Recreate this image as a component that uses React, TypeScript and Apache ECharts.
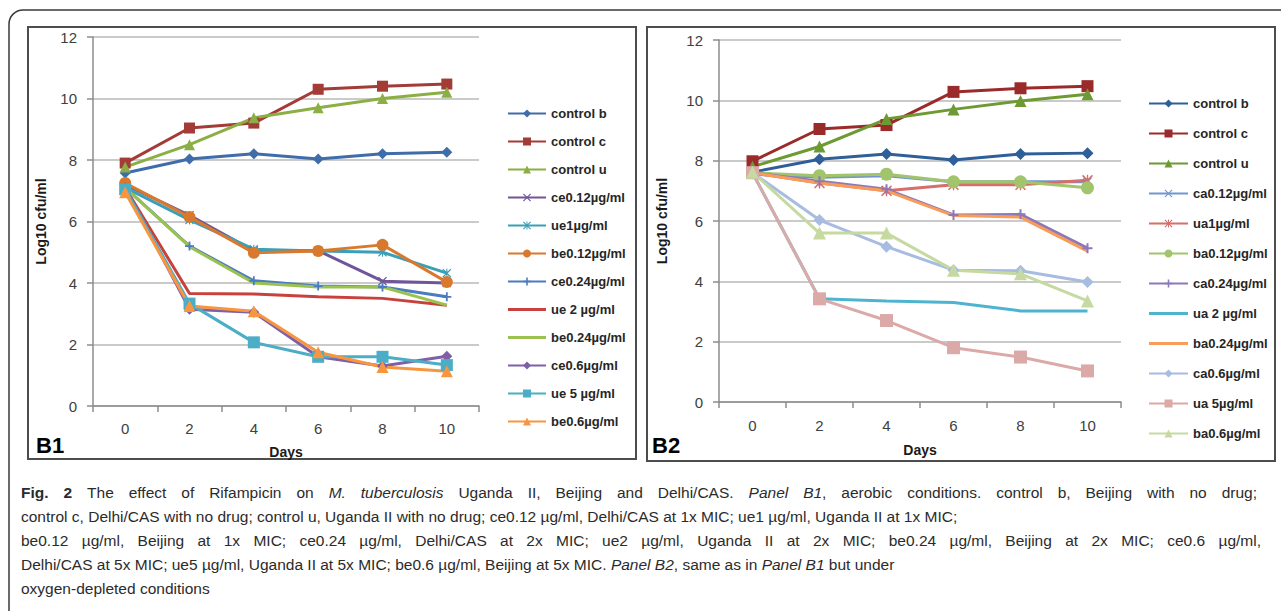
import React, { useEffect, useRef } from "react";
import * as echarts from "echarts";

// ---------- data ----------
const days = ["0", "2", "4", "6", "8", "10"];

// Panel B1 (aerobic)
const b1Names = [
  "control b", "control c", "control u", "ce0.12µg/ml", "ue1µg/ml", "be0.12µg/ml",
  "ce0.24µg/ml", "ue 2 µg/ml", "be0.24µg/ml", "ce0.6µg/ml", "ue 5 µg/ml", "be0.6µg/ml",
];
const b1ControlB = [7.58, 8.03, 8.2, 8.03, 8.2, 8.25];
const b1ControlC = [7.9, 9.04, 9.2, 10.3, 10.4, 10.47];
const b1ControlU = [7.77, 8.5, 9.37, 9.7, 10.0, 10.2];
const b1Ce012 = [7.2, 6.2, 5.05, 5.05, 4.06, 4.0];
const b1Ue1 = [7.1, 6.05, 5.1, 5.04, 5.0, 4.32];
const b1Be012 = [7.25, 6.15, 4.98, 5.04, 5.24, 4.03];
const b1Ce024 = [7.1, 5.2, 4.07, 3.9, 3.87, 3.55];
const b1Ue2 = [7.1, 3.66, 3.64, 3.55, 3.5, 3.28];
const b1Be024 = [7.1, 5.18, 4.0, 3.87, 3.87, 3.28];
const b1Ce06 = [7.1, 3.15, 3.05, 1.6, 1.3, 1.62];
const b1Ue5 = [7.05, 3.33, 2.07, 1.6, 1.6, 1.33];
const b1Be06 = [6.95, 3.25, 3.08, 1.75, 1.27, 1.13];

// Panel B2 (oxygen-depleted)
const b2Names = [
  "control b", "control c", "control u", "ca0.12µg/ml", "ua1µg/ml", "ba0.12µg/ml",
  "ca0.24µg/ml", "ua 2 µg/ml", "ba0.24µg/ml", "ca0.6µg/ml", "ua 5µg/ml", "ba0.6µg/ml",
];
const b2ControlB = [7.62, 8.05, 8.22, 8.02, 8.22, 8.25];
const b2ControlC = [7.98, 9.05, 9.18, 10.28, 10.4, 10.47];
const b2ControlU = [7.8, 8.47, 9.38, 9.7, 9.98, 10.2];
const b2Ca012 = [7.55, 7.45, 7.5, 7.3, 7.3, 7.3];
const b2Ua1 = [7.6, 7.26, 7.0, 7.2, 7.2, 7.35];
const b2Ba012 = [7.6, 7.5, 7.55, 7.3, 7.3, 7.1];
const b2Ca024 = [7.6, 7.32, 7.05, 6.2, 6.22, 5.1];
const b2Ua2 = [7.6, 3.42, 3.35, 3.3, 3.02, 3.02];
const b2Ba024 = [7.6, 7.26, 7.0, 6.18, 6.13, 5.0];
const b2Ca06 = [7.6, 6.03, 5.15, 4.37, 4.35, 3.98];
const b2Ua5 = [7.6, 3.42, 2.7, 1.8, 1.49, 1.03];
const b2Ba06 = [7.62, 5.6, 5.6, 4.37, 4.25, 3.35];

const captionLines = [
  "{b|Fig. 2} The effect of Rifampicin on {i|M. tuberculosis} Uganda II, Beijing and Delhi/CAS. {i|Panel B1}, aerobic conditions. control b, Beijing with no drug;",
  "control c, Delhi/CAS with no drug; control u, Uganda II with no drug; ce0.12 µg/ml, Delhi/CAS at 1x MIC; ue1 µg/ml, Uganda II at 1x MIC;",
  "be0.12 µg/ml, Beijing at 1x MIC; ce0.24 µg/ml, Delhi/CAS at 2x MIC; ue2 µg/ml, Uganda II at 2x MIC; be0.24 µg/ml, Beijing at 2x MIC; ce0.6 µg/ml,",
  "Delhi/CAS at 5x MIC; ue5 µg/ml, Uganda II at 5x MIC; be0.6 µg/ml, Beijing at 5x MIC. {i|Panel B2}, same as in {i|Panel B1} but under",
  "oxygen-depleted conditions",
];
// justified lines get stretched to this right edge (null = natural width)
const captionJustifyTo: (number | null)[] = [1257, null, 1261, null, null];

// ---------- styles ----------
const PLUS = "path://M4,0H6V4H10V6H6V10H4V6H0V4H4Z";
const CROSS = "path://M1,0L5,4L9,0L10,1L6,5L10,9L9,10L5,6L1,10L0,9L4,5L0,1Z";
const STAR = "path://M1,0L5,4L9,0L10,1L6,5L10,9L9,10L5,6L1,10L0,9L4,5L0,1Z M4.4,0H5.6V10H4.4Z";
const BAR = "path://M0,0H38V3H0Z";

type Sty = { color: string; symbol: string; size: number };
const b1Styles: Sty[] = [
  { color: "#3E6DAA", symbol: "diamond", size: 11 },
  { color: "#A33B37", symbol: "rect", size: 11 },
  { color: "#8BAF45", symbol: "triangle", size: 11 },
  { color: "#6F559A", symbol: CROSS, size: 9 },
  { color: "#3C9FB8", symbol: STAR, size: 9 },
  { color: "#D9792E", symbol: "circle", size: 12 },
  { color: "#4A7CC0", symbol: PLUS, size: 9 },
  { color: "#C8413D", symbol: "none", size: 0 },
  { color: "#9BC24F", symbol: "none", size: 0 },
  { color: "#7F5FA8", symbol: "diamond", size: 11 },
  { color: "#4BADC6", symbol: "rect", size: 12 },
  { color: "#F7963F", symbol: "triangle", size: 12 },
];
const b2Styles: Sty[] = [
  { color: "#2F5F99", symbol: "diamond", size: 12 },
  { color: "#9B2B2B", symbol: "rect", size: 12 },
  { color: "#6D9A32", symbol: "triangle", size: 12 },
  { color: "#7096D2", symbol: CROSS, size: 9 },
  { color: "#D66E6B", symbol: STAR, size: 11 },
  { color: "#A2C46C", symbol: "circle", size: 13 },
  { color: "#8D79B8", symbol: PLUS, size: 10 },
  { color: "#4EB3CF", symbol: "none", size: 0 },
  { color: "#FA9C59", symbol: "none", size: 0 },
  { color: "#A7BCE0", symbol: "diamond", size: 12 },
  { color: "#DBAAA8", symbol: "rect", size: 13 },
  { color: "#C5D9A0", symbol: "triangle", size: 13 },
];

const AX_FONT = "Liberation Sans";
const CAP_FONT = "Liberation Sans";
const CAP_SIZE = 15.5;
const CAP_COLOR = "#2b2b2b";

function panelOption(
  names: string[],
  values: number[][],
  styles: Sty[],
  g: { left: number; top: number; width: number; height: number },
  lg: { left: number; top: number; gap: number; w: number },
  gaps: { yName: number; xName: number; xLabel: number },
  graphic: any[]
) {
  return {
    animation: false,
    graphic,
    grid: { left: g.left, top: g.top, width: g.width, height: g.height, containLabel: false },
    legend: {
      orient: "vertical",
      left: lg.left,
      top: lg.top,
      itemWidth: lg.w,
      itemHeight: 10,
      itemGap: lg.gap,
      padding: 0,
      selectedMode: false,
      textStyle: { fontFamily: AX_FONT, fontWeight: "bold", fontSize: 13, color: "#262626" },
      data: names.map((n, i) => (styles[i].symbol === "none" ? { name: n, icon: BAR } : { name: n })),
    },
    xAxis: {
      type: "category",
      data: days,
      boundaryGap: true,
      name: "Days",
      nameLocation: "middle",
      nameGap: gaps.xName,
      nameTextStyle: { fontFamily: AX_FONT, fontWeight: "bold", fontSize: 14, color: "#1a1a1a" },
      axisLine: { lineStyle: { color: "#8C8C8C", width: 1.5 } },
      axisTick: { show: true, length: 6, alignWithLabel: false, lineStyle: { color: "#8C8C8C", width: 1.5 } },
      axisLabel: { fontFamily: AX_FONT, fontSize: 15, color: "#404040", margin: gaps.xLabel },
    },
    yAxis: {
      type: "value",
      min: 0,
      max: 12,
      interval: 2,
      name: "Log10 cfu/ml",
      nameLocation: "middle",
      nameRotate: 90,
      nameGap: gaps.yName,
      nameTextStyle: { fontFamily: AX_FONT, fontWeight: "bold", fontSize: 14, color: "#1a1a1a" },
      axisLine: { show: true, lineStyle: { color: "#8C8C8C", width: 1.5 } },
      axisTick: { show: true, length: 6, lineStyle: { color: "#8C8C8C", width: 1.5 } },
      axisLabel: { fontFamily: AX_FONT, fontSize: 15, color: "#404040", margin: 16 },
      splitLine: { lineStyle: { color: "#B8B8B8", width: 1.5 } },
    },
    series: names.map((n, i) => ({
      name: n,
      type: "line",
      data: values[i],
      symbol: styles[i].symbol,
      symbolSize: styles[i].size,
      showSymbol: styles[i].symbol !== "none",
      lineStyle: { color: styles[i].color, width: 3 },
      itemStyle: { color: styles[i].color },
      emphasis: { disabled: true },
    })),
  };
}

// Split a rich caption line into styled words
function captionWords(line: string) {
  const words: { text: string; kind: string }[] = [];
  const re = /\{(b|i)\|([^}]*)\}|([^{]+)/g;
  let m: RegExpExecArray | null;
  while ((m = re.exec(line))) {
    const kind = m[1] || "n";
    const txt = m[1] ? m[2] : m[3];
    const parts = txt.split(" ");
    parts.forEach((p, idx) => {
      if (p === "") return;
      // attach punctuation-only continuation to previous word when no space separated it
      if (idx === 0 && words.length && !/^\s/.test(txt) && !/\s$/.test(words[words.length - 1].text) && m!.index > 0 && line[m!.index - 1] !== " ") {
        // glued to previous token (e.g. "}," ) -> separate piece with zero gap
        words.push({ text: p, kind: kind + "-glue" });
      } else {
        words.push({ text: p, kind });
      }
    });
  }
  return words;
}

function captionGraphics(): any[] {
  const ctx = document.createElement("canvas").getContext("2d")!;
  const fontOf = (k: string) =>
    `${k.startsWith("i") ? "italic " : ""}${k.startsWith("b") ? "bold " : ""}${CAP_SIZE}px "${CAP_FONT}"`;
  const out: any[] = [];
  captionLines.forEach((line, li) => {
    const y = 492 + li * 24;
    const target = captionJustifyTo[li];
    if (target == null) {
      out.push({
        type: "text",
        silent: true,
        style: {
          text: line,
          x: 21,
          y,
          verticalAlign: "middle",
          fontFamily: CAP_FONT,
          fontSize: CAP_SIZE,
          fill: CAP_COLOR,
          rich: {
            b: { fontFamily: CAP_FONT, fontSize: CAP_SIZE, fontWeight: "bold", fill: CAP_COLOR },
            i: { fontFamily: CAP_FONT, fontSize: CAP_SIZE, fontStyle: "italic", fill: CAP_COLOR },
          },
        },
      });
      return;
    }
    const words = captionWords(line);
    const widths = words.map((w) => {
      ctx.font = fontOf(w.kind);
      return ctx.measureText(w.text).width;
    });
    const gapsCount = words.filter((w, i) => i > 0 && !w.kind.endsWith("glue")).length;
    const total = widths.reduce((a, b) => a + b, 0);
    const gap = (target - 21 - total) / Math.max(1, gapsCount);
    let x = 21;
    words.forEach((w, i) => {
      if (i > 0 && !w.kind.endsWith("glue")) x += gap;
      const k = w.kind.replace("-glue", "");
      out.push({
        type: "text",
        silent: true,
        style: {
          text: w.text,
          x,
          y,
          verticalAlign: "middle",
          fontFamily: CAP_FONT,
          fontSize: CAP_SIZE,
          fontWeight: k === "b" ? "bold" : "normal",
          fontStyle: k === "i" ? "italic" : "normal",
          fill: CAP_COLOR,
        },
      });
      x += widths[i];
    });
  });
  return out;
}

export default function App() {
  const refA = useRef<HTMLDivElement>(null);
  const refB = useRef<HTMLDivElement>(null);

  useEffect(() => {
    if (!refA.current || !refB.current) return;
    const chartA = echarts.init(refA.current, undefined, { renderer: "svg" });
    const chartB = echarts.init(refB.current, undefined, { renderer: "svg" });

    const graphicA: any[] = [
      {
        type: "rect",
        shape: { x: 9, y: 10, width: 1320, height: 720, r: 14 },
        style: { fill: "none", stroke: "#3a3a3a", lineWidth: 1.5 },
        silent: true,
      },
      {
        type: "rect",
        shape: { x: 28, y: 27, width: 608, height: 432 },
        style: { fill: "none", stroke: "#4d4d4d", lineWidth: 2 },
        silent: true,
      },
      {
        type: "rect",
        shape: { x: 647, y: 27, width: 628, height: 434 },
        style: { fill: "none", stroke: "#4d4d4d", lineWidth: 2 },
        silent: true,
      },
      {
        type: "text",
        style: { text: "B1", x: 36, y: 445, verticalAlign: "middle", fontFamily: AX_FONT, fontWeight: "bold", fontSize: 22, fill: "#000" },
      },
      {
        type: "text",
        style: { text: "B2", x: 652, y: 445, verticalAlign: "middle", fontFamily: AX_FONT, fontWeight: "bold", fontSize: 22, fill: "#000" },
      },
      ...captionGraphics(),
    ];

    chartA.setOption(
      panelOption(
        b1Names,
        [b1ControlB, b1ControlC, b1ControlU, b1Ce012, b1Ue1, b1Be012, b1Ce024, b1Ue2, b1Be024, b1Ce06, b1Ue5, b1Be06],
        b1Styles,
        { left: 93, top: 37, width: 386, height: 369 },
        { left: 507, top: 107, gap: 15, w: 38 },
        { yName: 45, xName: 39, xLabel: 15 },
        graphicA
      )
    );
    chartB.setOption(
      panelOption(
        b2Names,
        [b2ControlB, b2ControlC, b2ControlU, b2Ca012, b2Ua1, b2Ba012, b2Ca024, b2Ua2, b2Ba024, b2Ca06, b2Ua5, b2Ba06],
        b2Styles,
        { left: 65, top: 13, width: 409, height: 362 },
        { left: 501, top: 70, gap: 17, w: 39 },
        { yName: 50, xName: 41, xLabel: 16 },
        []
      )
    );
    return () => {
      chartA.dispose();
      chartB.dispose();
    };
  }, []);

  return (
    <>
      <div ref={refA} style={{ position: "absolute", left: 0, top: 0, width: 1281, height: 611 }} />
      <div ref={refB} style={{ position: "absolute", left: 647, top: 27, width: 629, height: 435 }} />
    </>
  );
}
